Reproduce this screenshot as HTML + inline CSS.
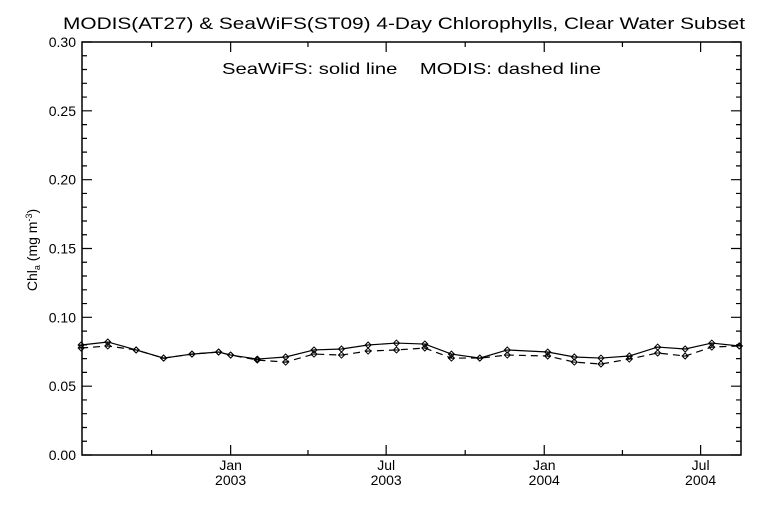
<!DOCTYPE html>
<html><head><meta charset="utf-8"><style>
html,body{margin:0;padding:0;background:#fff}
svg{display:block}
text{font-family:"Liberation Sans",sans-serif;fill:#000}
</style></head><body>
<svg id="chart" width="768" height="512" viewBox="0 0 768 512">
<text x="63" y="29" font-size="17" textLength="682" lengthAdjust="spacingAndGlyphs">MODIS(AT27) &amp; SeaWiFS(ST09) 4-Day Chlorophylls, Clear Water Subset</text>
<text x="222" y="74" font-size="16" textLength="379" lengthAdjust="spacingAndGlyphs">SeaWiFS: solid line &#160;&#160;&#160;MODIS: dashed line</text>
<text transform="translate(37,250) rotate(-90)" font-size="14" text-anchor="middle">Chl<tspan font-size="9" dy="3">a</tspan><tspan dy="-3"> (mg m</tspan><tspan font-size="9" dy="-5">-3</tspan><tspan dy="5">)</tspan></text>
<g id="axes"></g>
<g id="series"></g>
</svg>
<script>
const days = [-174,-143,-110,-78,-45,-14,0,31,64,97,129,160,193,226,257,290,322,369,400,431,464,497,529,560,592];
const seawifs = [.0799,.0821,.0763,.0704,.0733,.0748,.0726,.0697,.0712,.0763,.0770,.0799,.0813,.0806,.0733,.0704,.0763,.0748,.0712,.0704,.0719,.0784,.0770,.0813,.0792];
const modis = [.0777,.0792,.0763,.0704,.0733,.0748,.0726,.0690,.0675,.0733,.0726,.0755,.0763,.0777,.0704,.0704,.0726,.0719,.0675,.0661,.0697,.0741,.0719,.0784,.0792];
const yTicks = [0,0.05,0.10,0.15,0.20,0.25,0.30];
const yTickLabels = ["0.00","0.05","0.10","0.15","0.20","0.25","0.30"];
const xMajorDays = [0,181,365,547];
const xMajorLabels = [["Jan","2003"],["Jul","2003"],["Jan","2004"],["Jul","2004"]];
const xMinorDays = [-92,90,273,456];

const L=82,R=741,T=42,B=455;
const dMin=-173,dMax=594;
const X=d=>L+(d-dMin)/(dMax-dMin)*(R-L);
const Y=v=>B-v/0.30*(B-T);
const NS="http://www.w3.org/2000/svg";
function mk(tag,attrs,parent){const e=document.createElementNS(NS,tag);for(const k in attrs)e.setAttribute(k,attrs[k]);parent.appendChild(e);return e;}
const ax=document.getElementById('axes'), sg=document.getElementById('series');
let r=mk('rect',{x:L,y:T,width:R-L,height:B-T,fill:'none',stroke:'#000','stroke-width':1.5},ax);


for(let i=0;i<=30;i++){const v=i/100,y=Y(v),len=(i%5===0)?10:5;
  let t=mk('path',{d:`M${L},${y}h${len}M${R},${y}h${-len}`,stroke:'#000','stroke-width':1.2},ax);
  
  }
yTicks.forEach((v,i)=>{let t=mk('text',{x:L-6,y:Y(v)+5,'font-size':14,'text-anchor':'end'},ax);t.textContent=yTickLabels[i];
  
  });
xMajorDays.forEach((d,i)=>{const x=X(d);
  let t=mk('path',{d:`M${x},${B}v-10M${x},${T}v10`,stroke:'#000','stroke-width':1.2},ax);
  
  
  let a=mk('text',{x:x,y:B+15,'font-size':14,'text-anchor':'middle'},ax);a.textContent=xMajorLabels[i][0];
  
  
  let b=mk('text',{x:x,y:B+30,'font-size':14,'text-anchor':'middle'},ax);b.textContent=xMajorLabels[i][1];
  
  });
xMinorDays.forEach(d=>{const x=X(d);
  let t=mk('path',{d:`M${x},${B}v-5M${x},${T}v5`,stroke:'#000','stroke-width':1.2},ax);
  
  });
function draw(vals,dash,name){
  const pts=days.map((d,i)=>[X(d),Y(vals[i])]);
  let p=mk('polyline',{points:pts.map(p=>p.join(',')).join(' '),fill:'none',stroke:'#000','stroke-width':1.2},sg);
  if(dash)p.setAttribute('stroke-dasharray','7,5');
  
  
  pts.forEach(([x,y])=>{let m=mk('path',{d:`M${x},${y-3}l3,3l-3,3l-3,-3zM${x-3},${y}h6`,fill:'none',stroke:'#000','stroke-width':1},sg);
    
    });
}
draw(modis,true,'modis');
draw(seawifs,false,'seawifs');
</script>
</body></html>
